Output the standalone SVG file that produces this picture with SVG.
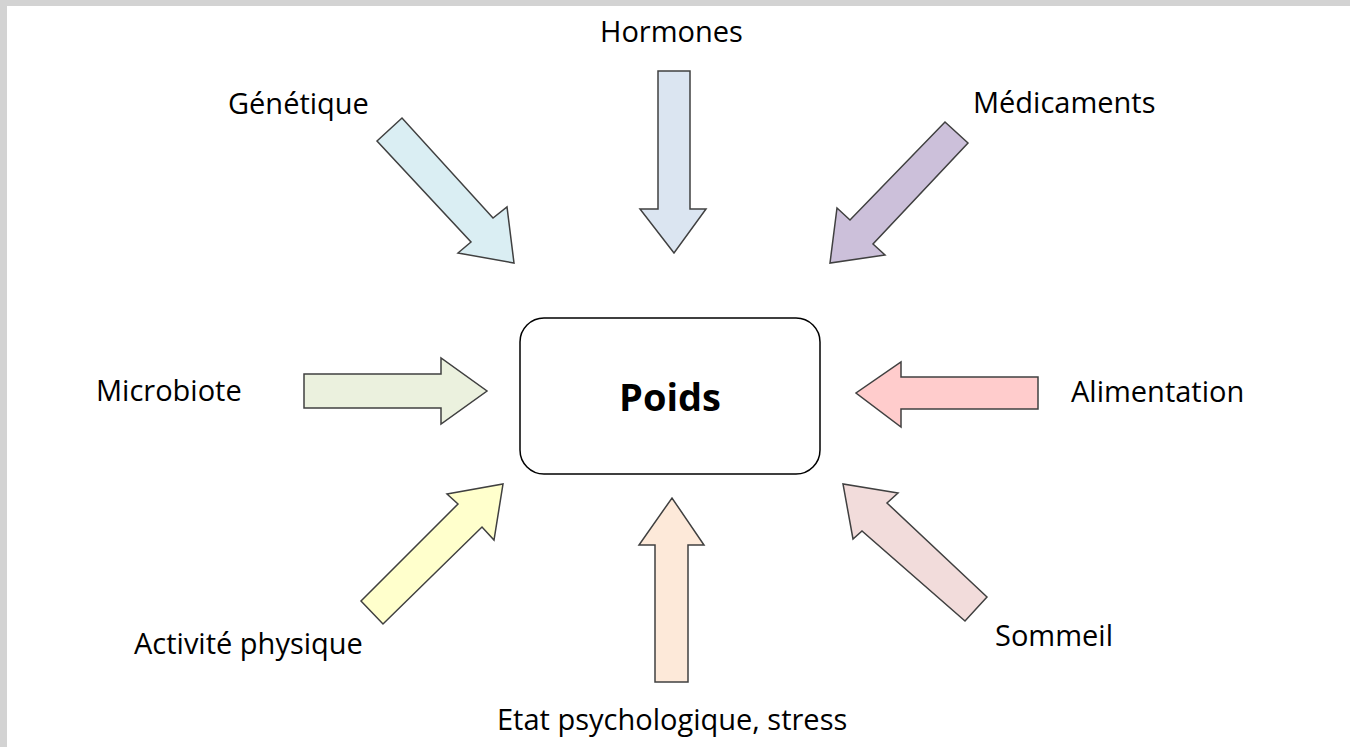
<svg xmlns="http://www.w3.org/2000/svg" width="1350" height="747" viewBox="0 0 1350 747">
<style>
.lbl{font-family:"Open Sans","Noto Sans","Liberation Sans",sans-serif;font-size:29px;fill:#000}
.title{font-family:"Open Sans","Noto Sans","Liberation Sans",sans-serif;font-size:38px;font-weight:bold;fill:#000}
.arr{stroke:#404040;stroke-width:1.5;stroke-linejoin:miter}
</style>
<rect x="0" y="0" width="1350" height="747" fill="#d3d3d3"/>
<rect x="7" y="6" width="1343" height="741" fill="#ffffff"/>
<g id="poids">
<rect x="520" y="318" width="300" height="156" rx="24" ry="24" fill="#ffffff" stroke="#000" stroke-width="1.5"/>
<text class="title" x="670" y="411" text-anchor="middle">Poids</text>
</g>
<g id="hormones"><text class="lbl" x="600" y="42">Hormones</text></g>
<g id="genetique"><text class="lbl" x="228" y="114">Génétique</text></g>
<g id="medicaments"><text class="lbl" x="973" y="113">Médicaments</text></g>
<g id="microbiote"><text class="lbl" x="96" y="401">Microbiote</text></g>
<g id="alimentation"><text class="lbl" x="1071" y="402">Alimentation</text></g>
<g id="activite"><text class="lbl" x="134" y="654">Activité physique</text></g>
<g id="sommeil"><text class="lbl" x="995" y="646">Sommeil</text></g>
<g id="etat"><text class="lbl" x="497" y="730">Etat psychologique, stress</text></g>
<g id="connectors">
<polygon class="arr" fill="#daeef3" points="377,141 402,118 493,218 507,207 514,263 458,253 471,242"/>
<polygon class="arr" fill="#dbe5f1" points="658,71 690,71 690,209 706,209 674,253 640,209 658,209"/>
<polygon class="arr" fill="#ccc0da" points="945,122 968,143 873,244 885,255 830,263 837,208 850,220"/>
<polygon class="arr" fill="#ebf1de" points="304,374 441,374 441,358 487,391 441,424 441,408 304,408"/>
<polygon class="arr" fill="#ffcccc" points="1038,377 901,377 901,362 856,393 901,427 901,409 1038,409"/>
<polygon class="arr" fill="#ffffcc" points="361,601 383,624 482,527 494,540 503,484 447,494 458,504"/>
<polygon class="arr" fill="#fde9d9" points="655,682 688,682 688,545 704,545 672,498 639,545 655,545"/>
<polygon class="arr" fill="#f2dcdb" points="987,597 965,621 862,531 853,539 843,484 898,493 887,503"/>
</g>
</svg>
